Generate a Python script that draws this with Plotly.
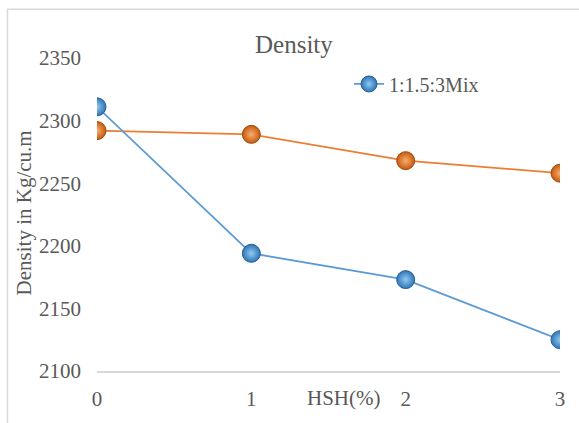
import plotly.graph_objects as go

hsh = [0, 1, 2, 3]
mix_label = "1:1.5:3Mix"
blue_values = [2311, 2194, 2173, 2125]
orange_values = [2292, 2289, 2268, 2258]
y_ticks = [2100, 2150, 2200, 2250, 2300, 2350]

FONT = "Liberation Serif, Times New Roman, serif"
GREY = "#595959"

W, H = 579, 423
L, R, T, B = 97, 19, 57.5, 50.3
pw, ph = W - L - R, H - T - B

def px_x(px):
    return (px - L) / pw

def px_y(py):
    return (H - B - py) / ph

fig = go.Figure()
fig.add_trace(go.Scatter(
    x=hsh, y=orange_values, mode="lines+markers", showlegend=False,
    line=dict(color="#ED7D31", width=1.8),
    marker=dict(size=18, color="#C55A11", line=dict(color="#A04A10", width=1),
                gradient=dict(type="radial", color="#F9AE6B")),
))
fig.add_trace(go.Scatter(
    x=hsh, y=blue_values, mode="lines+markers", name=mix_label,
    line=dict(color="#5B9BD5", width=1.8),
    marker=dict(size=18, color="#2E75B6", line=dict(color="#2A5F96", width=1),
                gradient=dict(type="radial", color="#92C9F2")),
))

fig.update_layout(
    width=W, height=H,
    margin=dict(l=L, r=R, t=T, b=B),
    paper_bgcolor="white", plot_bgcolor="white",
    font=dict(family=FONT, color=GREY, size=21),
    showlegend=True,
    legend=dict(x=px_x(349), y=px_y(64), xanchor="left", yanchor="top",
                font=dict(size=20, family=FONT, color=GREY),
                bgcolor="rgba(0,0,0,0)", itemwidth=30),
    xaxis=dict(range=[0, 3], tickvals=hsh, ticktext=[str(v) for v in hsh],
               showgrid=False, zeroline=False, showline=True,
               linecolor="#D9D9D9", linewidth=2, ticks="",
               ticklabelstandoff=8, tickfont=dict(size=21)),
    yaxis=dict(range=[2100, 2350], tickvals=y_ticks,
               showgrid=False, zeroline=False, showline=False, ticks="",
               ticklabelstandoff=15, tickfont=dict(size=21)),
    annotations=[
        dict(text="Density", x=px_x(294), y=px_y(44), xref="paper", yref="paper",
             showarrow=False, font=dict(size=25, family=FONT, color=GREY),
             xanchor="center", yanchor="middle"),
        dict(text="HSH(%)", x=px_x(344), y=px_y(400), xref="paper", yref="paper",
             showarrow=False, font=dict(size=21, family=FONT, color=GREY),
             xanchor="center", yanchor="middle"),
        dict(text="Density in Kg/cu.m", x=px_x(24), y=px_y(214), xref="paper", yref="paper",
             showarrow=False, textangle=-90, font=dict(size=21, family=FONT, color=GREY),
             xanchor="center", yanchor="middle"),
    ],
    shapes=[
        dict(type="rect", xref="paper", yref="paper",
             x0=px_x(7.5), x1=px_x(600), y0=px_y(450), y1=px_y(8.5),
             line=dict(color="#D9D9D9", width=1.5), layer="below"),
    ],
)

fig.write_html(
    "out.html",
    config={"displayModeBar": False},
    post_script="document.body.style.margin='0';document.body.style.overflow='hidden';",
)
